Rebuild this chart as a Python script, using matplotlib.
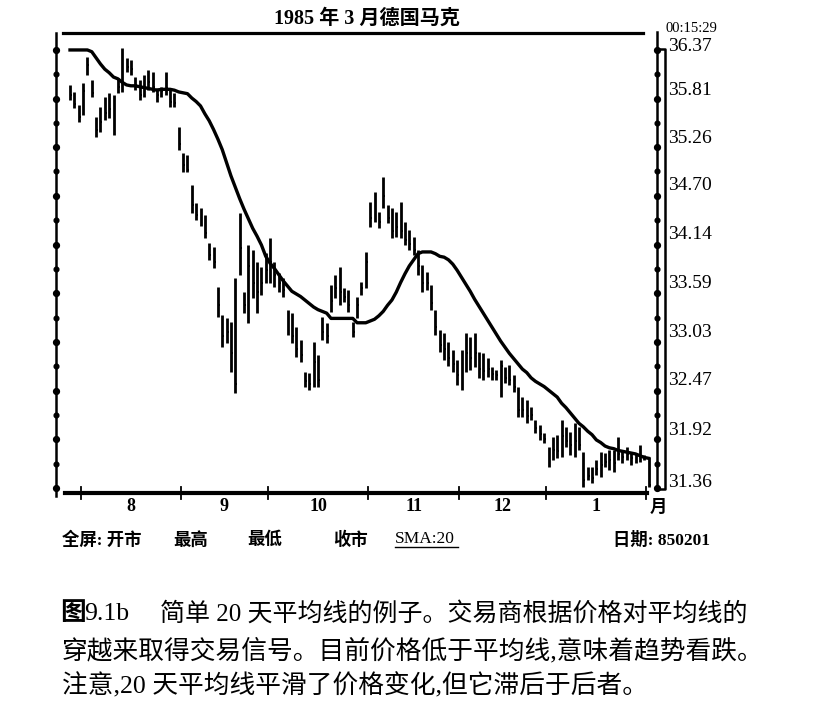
import matplotlib
matplotlib.use('Agg')
import matplotlib.pyplot as plt
from matplotlib.lines import Line2D
from matplotlib import transforms as mtrans
import numpy as np

# ---------------- data ----------------
highs = [35.97,35.89,35.74,35.99,36.29,36.03,35.60,35.72,35.83,35.88,
         35.86,36.05,36.39,36.28,36.26,36.06,36.03,36.08,36.14,36.12,
         35.94,35.95,36.12,35.91,35.88,35.49,35.19,35.17,34.83,34.62,
         34.56,34.48,34.16,34.12,33.66,33.34,33.30,33.26,33.76,34.51,
         33.60,34.14,34.08,33.95,33.89,34.05,34.22,33.95,33.82,33.76,
         33.40,33.36,33.20,33.05,32.69,32.68,33.03,32.88,33.32,33.25,
         33.68,33.80,33.89,33.65,33.62,33.26,33.55,33.72,34.06,34.63,
         34.75,34.52,34.92,34.60,34.56,34.52,34.63,34.40,34.31,34.23,
         34.08,33.91,33.83,33.68,33.40,33.17,33.13,33.03,32.94,32.82,
         32.94,33.13,33.09,33.13,32.92,32.90,32.85,32.74,32.71,32.82,
         32.74,32.77,32.65,32.52,32.40,32.37,32.29,32.14,32.08,31.99,
         31.83,31.94,31.97,32.14,32.06,32.00,32.10,32.06,31.77,31.60,
         31.60,31.68,31.77,31.76,31.79,31.79,31.94,31.79,31.83,31.77,
         31.76,31.85,31.74,31.72]
lows = [35.80,35.71,35.55,35.63,36.08,35.83,35.37,35.43,35.57,35.59,
        35.40,35.88,35.89,36.12,36.08,35.91,35.80,35.83,35.91,35.89,
        35.78,35.83,35.86,35.72,35.72,35.23,34.97,34.97,34.51,34.43,
        34.36,34.22,33.97,33.88,33.32,32.97,33.02,32.69,32.45,33.80,
        33.36,33.25,33.53,33.36,33.57,33.71,33.71,33.66,33.60,33.55,
        33.11,33.02,32.86,32.80,32.52,32.48,32.52,32.52,33.05,33.02,
        33.37,33.53,33.45,33.49,33.37,33.09,33.30,33.57,33.65,34.35,
        34.40,34.33,34.56,34.39,34.22,34.23,34.22,34.14,34.08,34.03,
        33.80,33.60,33.62,33.40,33.11,32.92,32.82,32.76,32.69,32.54,
        32.48,32.69,32.71,32.74,32.62,32.60,32.63,32.60,32.60,32.40,
        32.56,32.54,32.46,32.17,32.17,32.10,32.14,31.99,31.91,31.88,
        31.60,31.68,31.70,31.72,31.83,31.74,31.72,31.79,31.37,31.45,
        31.42,31.51,31.49,31.60,31.57,31.54,31.68,31.65,31.68,31.62,
        31.65,31.66,31.68,31.37]
closes = [35.86,35.75,35.60,35.90,36.20,35.88,35.45,35.55,35.65,35.70,
          35.78,35.95,36.00,36.18,36.15,35.97,35.85,35.95,36.00,35.95,
          35.85,35.90,35.93,35.78,35.76,35.30,35.05,35.00,34.60,34.48,
          34.40,34.28,34.02,33.95,33.45,33.10,33.15,32.90,32.55,34.10,
          33.45,33.90,33.70,33.60,33.70,33.85,33.95,33.80,33.70,33.62,
          33.20,33.10,32.95,32.88,32.58,32.55,32.80,32.60,33.15,33.10,
          33.50,33.65,33.60,33.55,33.45,33.15,33.45,33.65,33.95,34.45,
          34.50,34.40,34.70,34.45,34.30,34.35,34.30,34.20,34.15,34.08,
          33.90,33.70,33.70,33.48,33.20,33.00,32.95,32.85,32.78,32.65,
          32.60,32.90,32.85,32.90,32.72,32.70,32.72,32.66,32.65,32.75,
          32.62,32.60,32.52,32.25,32.25,32.18,32.20,32.05,31.98,31.92,
          31.68,31.80,31.78,31.95,31.90,31.85,31.90,31.85,31.45,31.50,
          31.48,31.58,31.62,31.66,31.68,31.65,31.75,31.72,31.75,31.70,
          31.70,31.72,31.70,31.40]
sma20 = [36.37,36.37,36.37,36.37,36.37,36.35,36.28,36.21,36.15,36.11,
         36.06,36.04,36.00,35.97,35.96,35.96,35.95,35.94,35.93,35.92,
         35.91,35.92,35.92,35.92,35.91,35.89,35.88,35.87,35.82,35.78,
         35.73,35.64,35.56,35.46,35.35,35.23,35.08,34.93,34.80,34.67,
         34.55,34.44,34.33,34.24,34.14,34.01,33.93,33.87,33.80,33.73,
         33.67,33.61,33.58,33.55,33.51,33.47,33.43,33.40,33.38,33.36,
         33.30,33.30,33.30,33.30,33.30,33.30,33.25,33.25,33.25,33.27,
         33.29,33.33,33.38,33.45,33.51,33.60,33.71,33.81,33.90,33.97,
         34.04,34.06,34.06,34.06,34.04,34.01,34.00,33.97,33.92,33.85,
         33.77,33.69,33.61,33.52,33.44,33.36,33.28,33.20,33.12,33.04,
         32.97,32.90,32.84,32.78,32.72,32.68,32.62,32.58,32.55,32.52,
         32.48,32.44,32.40,32.33,32.28,32.22,32.16,32.10,32.06,32.01,
         31.97,31.91,31.88,31.84,31.82,31.81,31.79,31.78,31.77,31.76,
         31.75,31.73,31.71,31.70]

price_ticks = [36.37, 35.81, 35.26, 34.70, 34.14, 33.59, 33.03, 32.47, 31.92, 31.36]
price_labels = ['36.37', '35.81', '35.26', '34.70', '34.14', '33.59', '33.03', '32.47', '31.92', '31.36']
month_labels = ['8', '9', '10', '11', '12', '1']
month_start_bar = [3, 26, 46, 69, 90, 110, 133]

title = '1985 年 3 月德国马克'
clock = '00:15:29'
legend_items = ['全屏: 开市', '最高', '最低', '收市']
sma_label = 'SMA:20'
date_label = '日期: 850201'
unit_label = '月'
cap_fig = '图'
cap_num = '9.1b'
cap_line1 = '简单 20 天平均线的例子。交易商根据价格对平均线的'
cap_line2 = '穿越来取得交易信号。目前价格低于平均线,意味着趋势看跌。'
cap_line3 = '注意,20 天平均线平滑了价格变化,但它滞后于后者。'

# ---------------- figure ----------------
W, H = 839, 713
fig = plt.figure(figsize=(W / 100, H / 100), dpi=100)
fig.patch.set_facecolor('white')

def fx(px):
    return px / W

def fy(py):
    return 1 - py / H

FAM = ['Liberation Serif', 'Noto Sans CJK SC']

ax = fig.add_axes([fx(56), fy(493), fx(665) - fx(56), fy(33) - fy(493)])
ax.set_xlim(-3.22, 136.78)
ax.set_ylim(31.303, 36.564)
ax.axis('off')

x = np.arange(len(highs))
ax.vlines(x, lows, highs, color='black', lw=2.0, zorder=2)
ax.hlines(closes, x, x + 0.45, color='black', lw=1.4, zorder=2)
ax.plot(x, sma20, color='black', lw=2.4, solid_joinstyle='round', zorder=3)

ta = ax.transAxes
bl_xd = mtrans.blended_transform_factory(ax.transData, ax.transAxes)   # x data, y axes
bl_ya = mtrans.blended_transform_factory(ax.transAxes, ax.transData)   # x axes, y data

# left axis line & dots
ax.plot([0, 0], [-0.006, 1.0], transform=ta, color='black', lw=1.8, clip_on=False)
minor_vals = [(a + b) / 2 for a, b in zip(price_ticks[:-1], price_ticks[1:])]
ax.plot([0] * len(price_ticks), price_ticks, 'o', color='black', ms=4.2,
        transform=bl_ya, clip_on=False)
ax.plot([0] * len(minor_vals), minor_vals, 'o', color='black', ms=3.4,
        transform=bl_ya, clip_on=False)

# top line
ax.plot([0.0115, 0.9639], [1.0, 1.0], transform=ta, color='black', lw=2.3, clip_on=False)
# bottom line
ax.plot([0.0148, 0.9704], [0.0, 0.0], transform=ta, color='black', lw=3.0, clip_on=False)
for m in month_start_bar:
    ax.plot([m - 0.5, m - 0.5], [-0.012, 0.012], transform=bl_xd, color='black',
            lw=1.3, clip_on=False)

# right double line (thin rectangle)
a_in = (657 - 56) / 609
top_rect = price_ticks[0] + 0.012
bot_rect = price_ticks[-1] - 0.012
ax.plot([a_in, a_in], [bot_rect, 36.577], transform=bl_ya, color='black', lw=1.8, clip_on=False)
ax.plot([a_in, 1.0, 1.0, a_in], [top_rect, top_rect, bot_rect, bot_rect],
        transform=bl_ya, color='black', lw=1.8, clip_on=False)
ax.plot([a_in] * len(price_ticks), price_ticks, 'o', color='black', ms=4.2,
        transform=bl_ya, clip_on=False)
ax.plot([a_in] * len(minor_vals), minor_vals, 'o', color='black', ms=3.4,
        transform=bl_ya, clip_on=False)

# right price labels
label_dy = [3, 8, 9, 10, 10, 10, 9, 10, 9, 6]
a_lab = (668 - 56) / 609
for v, s, dy in zip(price_ticks, price_labels, label_dy):
    tr = mtrans.offset_copy(bl_ya, fig=fig, x=0, y=dy, units='dots')
    ax.text(a_lab, v, s, transform=tr, ha='left', va='center', fontsize=14,
            family='Liberation Serif', clip_on=False)

# month labels
for k, lab in enumerate(month_labels):
    mid = (month_start_bar[k] + month_start_bar[k + 1]) / 2 - 0.5
    ax.text(mid, -0.0283, lab, transform=bl_xd, ha='center', va='center',
            fontsize=13, fontweight='bold', family='Liberation Serif', clip_on=False)

fig.text(fx(658), fy(508), unit_label, ha='center', va='center', fontsize=12.5,
         fontweight='bold', family=FAM)

# title & clock
fig.text(fx(367), fy(19), title, ha='center', va='center', fontsize=14.5,
         fontweight='bold', family=FAM)
fig.text(fx(665), fy(29), clock, ha='left', va='center', fontsize=10.5,
         family='Liberation Serif')

# legend row
for px, s in zip([62, 173, 247, 333], legend_items):
    fig.text(fx(px), fy(540), s, ha='left', va='center', fontsize=12.5,
             fontweight='bold', family=FAM)
fig.text(fx(395), fy(539), sma_label, ha='left', va='center', fontsize=12.5,
         family='Liberation Serif')
fig.add_artist(Line2D([fx(395), fx(458)], [fy(547), fy(547)], color='black', lw=1.0))
fig.text(fx(613), fy(540), date_label, ha='left', va='center', fontsize=12.5,
         fontweight='bold', family=FAM)

# caption
fig.text(fx(60), fy(614), cap_fig, ha='left', va='center', fontsize=18.5,
         fontweight='bold', family=FAM)
fig.text(fx(84), fy(614), cap_num, ha='left', va='center', fontsize=18.5,
         fontweight='medium', family=FAM)
fig.text(fx(160), fy(614), cap_line1, ha='left', va='center', fontsize=18,
         fontweight='medium', family=FAM)
fig.text(fx(62), fy(651), cap_line2, ha='left', va='center', fontsize=18.5,
         fontweight='medium', family=FAM)
fig.text(fx(62), fy(686), cap_line3, ha='left', va='center', fontsize=18.5,
         fontweight='medium', family=FAM)

fig.savefig('out.png', dpi=100, facecolor='white')
